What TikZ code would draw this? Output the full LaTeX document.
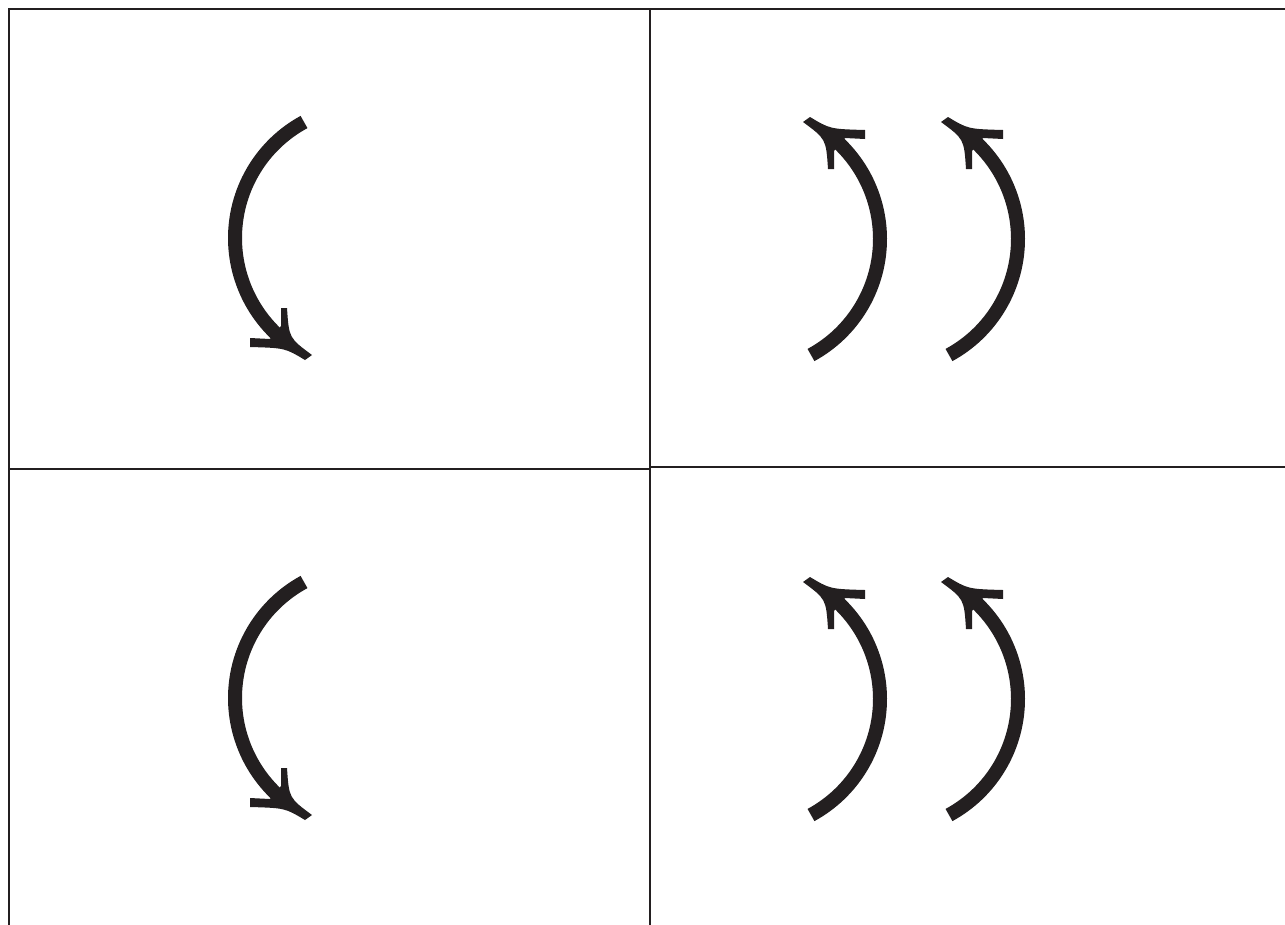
\documentclass[tikz,border=0pt]{standalone}
\usepackage{tikz}
\usetikzlibrary{positioning}
\definecolor{ink}{HTML}{231F20}

\tikzset{
    turn arrow/.pic={
        \draw[shaft] (118.5:132) arc[start angle=118.5, end angle=230, radius=132];
        \fill[ink] (-62,-122) -- (-55,-117) .. controls (-78,-100) .. (-80,-70)
            -- (-86,-70) -- (-86,-88) -- (-97,-101) -- (-117,-100) -- (-117,-109)
            .. controls (-82,-110) .. (-62,-122) -- cycle;
    }
}

\begin{document}
\begin{tikzpicture}[
    x=0.02cm, y=0.02cm,
    panel/.style={draw=ink, line width=0.03cm},
    shaft/.style={draw=ink, line width=0.28cm, line cap=butt}
]
\clip (0,0) rectangle (1285,-924);
\fill[white] (0,0) rectangle (1285,-924);

% four panels
\draw[panel] (9,-9) rectangle (650,-469);
\draw[panel] (9,-469) rectangle (650,-940);
\draw[panel] (650,-9) rectangle (1300,-467);
\draw[panel] (650,-467) rectangle (1300,-940);

% single arrows, left column
\pic at (367,-238) {turn arrow};
\pic at (367,-698) {turn arrow};

% double arrows, right column
\pic[rotate=180] at (748,-239) {turn arrow};
\pic[rotate=180] at (886,-239) {turn arrow};
\pic[rotate=180] at (748,-699) {turn arrow};
\pic[rotate=180] at (886,-699) {turn arrow};
\end{tikzpicture}
\end{document}
